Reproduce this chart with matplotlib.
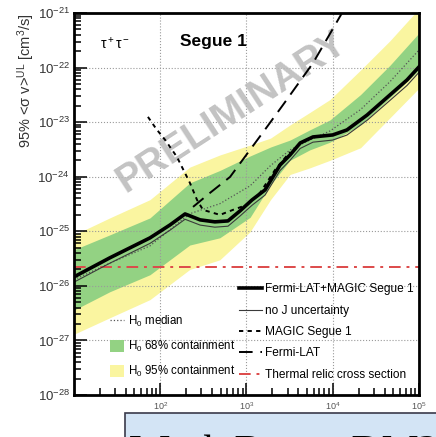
import numpy as np
import matplotlib
matplotlib.use("Agg")
import matplotlib.pyplot as plt
from matplotlib.lines import Line2D
from matplotlib.patches import Patch, Rectangle

plt.rcParams['font.family'] = ['Liberation Sans', 'DejaVu Sans']
plt.rcParams['mathtext.default'] = 'regular'

# expected limits (null hypothesis) on a common mass grid [GeV]
mass_band = [10, 26, 76, 220, 490, 1100, 1900, 3200, 5400, 9300, 21000, 46000, 100000]
h0_95_hi = [8.6e-26, 1.76e-25, 3.8e-25, 1.5e-24, 2.5e-24, 3.8e-24, 5.1e-24, 8.9e-24, 1.5e-23, 2.6e-23, 9.0e-23, 3.1e-22, 1.2e-21]
h0_68_hi = [4.6e-26, 8.6e-26, 1.76e-25, 7.7e-25, 1.3e-24, 2.4e-24, 3.5e-24, 4.7e-24, 7.2e-24, 1.1e-23, 3.2e-23, 1.1e-22, 4.3e-22]
h0_median = [1.3e-26, 2.6e-26, 5.4e-26, 2.1e-25, 3.2e-25, 6.8e-25, 1.6e-24, 3.1e-24, 4.7e-24, 6.9e-24, 1.7e-23, 5.5e-23, 2.1e-22]
h0_68_lo = [3.6e-27, 7.8e-27, 1.6e-26, 5.6e-26, 7.6e-26, 1.8e-25, 7.1e-25, 2.0e-24, 3.1e-24, 4.3e-24, 8.9e-24, 2.8e-23, 9.0e-23]
h0_95_lo = [1.3e-27, 2.6e-27, 5.6e-27, 2.0e-26, 3.0e-26, 9.8e-26, 3.8e-25, 1.1e-24, 1.45e-24, 2.0e-24, 3.4e-24, 1.2e-23, 4.2e-23]

# combined Fermi-LAT + MAGIC limit and the version without J uncertainty
mass_comb = [10, 26, 76, 130, 194, 290, 430, 610, 840, 1160, 1640, 2450, 3200, 4200, 5900, 10000, 14600, 25000, 46000, 72600, 100000]
sv_comb = [1.46e-26, 3.26e-26, 7.57e-26, 1.31e-25, 2.08e-25, 1.62e-25, 1.49e-25, 1.55e-25, 2.36e-25, 3.76e-25, 5.73e-25, 1.64e-24, 2.51e-24, 4.16e-24, 5.36e-24, 5.83e-24, 7.2e-24, 1.35e-23, 3.15e-23, 5.93e-23, 1.03e-22]
sv_noj = [1.17e-26, 2.6e-26, 6.0e-26, 1.05e-25, 1.66e-25, 1.3e-25, 1.19e-25, 1.24e-25, 1.9e-25, 3.0e-25, 4.6e-25, 1.3e-24, 2.0e-24, 3.3e-24, 4.3e-24, 4.7e-24, 5.8e-24, 1.08e-23, 2.5e-23, 4.7e-23, 8.2e-23]

# individual instruments
mass_magic = [72, 90, 114, 156, 221, 267, 313, 493, 697, 1014, 1434, 2140, 3190]
sv_magic = [1.25e-23, 7.5e-24, 4.72e-24, 2.31e-24, 7.69e-25, 3.76e-25, 2.47e-25, 2.0e-25, 2.47e-25, 3.05e-25, 5.05e-25, 1.33e-24, 2.84e-24]
mass_fermi = [240, 377, 644, 1098, 1729, 2650, 5900, 12800, 16700]
sv_fermi = [2.8e-25, 5.05e-25, 9.9e-25, 3.1e-24, 8.2e-24, 2.07e-23, 1.21e-22, 1.0e-21, 1.7e-21]

thermal_relic = 2.2e-26

fig = plt.figure(figsize=(4.36, 4.37), dpi=100)
ax = fig.add_axes([0.1697, 0.0961, 0.7913, 0.8741])

ax.fill_between(mass_band, h0_95_lo, h0_95_hi, color='#faf5a0', lw=0, zorder=0.5)
ax.fill_between(mass_band, h0_68_lo, h0_68_hi, color='#93d283', lw=0, zorder=0.6)
ax.plot(mass_band, h0_median, ':', color='#555555', lw=0.9, zorder=1.6)

ax.text(0.458, 0.741, 'PRELIMINARY', transform=ax.transAxes, rotation=33,
        ha='center', va='center', fontsize=28, fontweight='bold',
        color='#b8b8b8', alpha=0.85, zorder=1.7)

ax.axhline(thermal_relic, color='#dd4a4a', lw=1.4, dashes=(6, 3, 1.5, 3), zorder=2)
ax.plot(mass_comb, sv_noj, color='#3a3a3a', lw=0.8, zorder=2.1)
ax.plot(mass_magic, sv_magic, color='black', lw=1.4, dashes=(2.2, 2.2), zorder=2.2)
ax.plot(mass_fermi, sv_fermi, color='black', lw=1.4, dashes=(7, 4), zorder=2.3)
ax.plot(mass_comb, sv_comb, color='black', lw=2.6, zorder=2.5)

ax.set_xscale('log')
ax.set_yscale('log')
ax.set_xlim(10, 1e5)
ax.set_ylim(1e-28, 1e-21)
ax.set_xticks([1e2, 1e3, 1e4, 1e5])
ax.set_xticklabels([r'$10^{2}$', r'$10^{3}$', r'$10^{4}$', r'$10^{5}$'])
ax.set_yticks([10.0 ** k for k in range(-28, -20)])
ax.set_yticklabels([r'$10^{%d}$' % k for k in range(-28, -20)])

ax.grid(True, which='major', linestyle=':', color='#9a9a9a', lw=0.8)
ax.tick_params(which='both', direction='in', top=False, right=False, width=1.1)
ax.tick_params(which='major', length=9)
ax.tick_params(which='minor', length=5)
ax.tick_params(axis='x', labelsize=6.5, labelcolor='#555555', pad=4)
ax.tick_params(axis='y', labelsize=9.5, labelcolor='#333333', pad=3)
for s in ax.spines.values():
    s.set_linewidth(2)

ax.set_ylabel(r'95% <$\sigma$ v>$^{UL}$ [cm$^3$/s]', loc='top', fontsize=10.5,
              color='#333333')
ax.yaxis.set_label_coords(-0.107, 1.0)

ax.text(0.075, 0.921, r'$\tau^+\tau^-$', transform=ax.transAxes, fontsize=10,
        va='center')
ax.text(0.307, 0.925, 'Segue 1', transform=ax.transAxes, fontsize=12.5,
        fontweight='bold', va='center')

# legends
h_left = [Line2D([], [], ls=':', color='#555555', lw=0.9),
          Patch(facecolor='#93d283', edgecolor='none'),
          Patch(facecolor='#faf5a0', edgecolor='none')]
l_left = ax.legend(h_left, [r'H$_0$ median', r'H$_0$ 68% containment', r'H$_0$ 95% containment'],
                   loc='upper left', bbox_to_anchor=(0.105, 0.212), frameon=False,
                   fontsize=8.3, handlelength=1.2, handleheight=1.15, handletextpad=0.3,
                   labelspacing=0.85, borderpad=0, borderaxespad=0)
ax.add_artist(l_left)

h_right = [Line2D([], [], color='black', lw=2.6),
           Line2D([], [], color='#3a3a3a', lw=0.8),
           Line2D([], [], color='black', lw=1.4, dashes=(2.2, 2.2)),
           Line2D([], [], color='black', lw=1.4, dashes=(7, 4)),
           Line2D([], [], color='#dd4a4a', lw=1.4, dashes=(6, 3, 1.5, 3))]
ax.legend(h_right, ['Fermi-LAT+MAGIC Segue 1', 'no J uncertainty', 'MAGIC Segue 1',
                    'Fermi-LAT', 'Thermal relic cross section'],
          loc='upper left', bbox_to_anchor=(0.478, 0.292), frameon=False,
          fontsize=8.6, handlelength=1.9, handletextpad=0.3, labelspacing=0.78,
          borderpad=0, borderaxespad=0)

# caption strip running off the bottom edge
fig.patches.append(Rectangle((0.287, -0.05), 0.75, 0.105, transform=fig.transFigure,
                             facecolor='#d3e4f5', edgecolor='#3a3a4a', lw=1.2))
fig.text(0.298, -0.063, 'Weak Boson DM?', fontsize=30, family='Liberation Serif',
         va='baseline', ha='left')

fig.savefig('out.png', dpi=100)
